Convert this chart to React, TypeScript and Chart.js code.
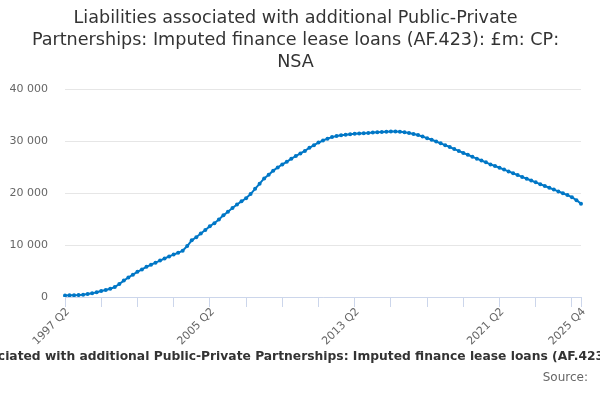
import React, { useEffect, useRef } from "react";
import { Chart, registerables } from "chart.js";

Chart.register(...registerables);

const TITLE_LINES = [
  "Liabilities associated with additional Public-Private",
  "Partnerships: Imputed finance lease loans (AF.423): £m: CP:",
  "NSA",
];
const FULL_TITLE =
  "Liabilities associated with additional Public-Private Partnerships: Imputed finance lease loans (AF.423): £m: CP: NSA";
const SOURCE_TEXT = "Source:";

const START_YEAR = 1997;
const START_QUARTER = 2;

// Quarterly values, £m, 1997 Q2 .. 2025 Q4
const VALUES = [
  300, 320, 350, 380, 450, 560, 700, 900, 1150, 1350,
  1600, 1900, 2500, 3150, 3750, 4300, 4850, 5300, 5800, 6200,
  6600, 7000, 7400, 7800, 8150, 8500, 8900, 9800, 10900, 11500,
  12200, 12900, 13600, 14200, 14900, 15700, 16400, 17100, 17800, 18400,
  19000, 19800, 20800, 21800, 22800, 23500, 24300, 24900, 25500, 26000,
  26600, 27100, 27600, 28100, 28700, 29200, 29700, 30100, 30450, 30750,
  30950, 31100, 31200, 31300, 31400, 31450, 31500, 31550, 31650, 31700,
  31750, 31800, 31850, 31850, 31800, 31700, 31550, 31350, 31150, 30850,
  30550, 30250, 29900, 29550, 29200, 28850, 28450, 28100, 27700, 27350,
  26950, 26600, 26250, 25900, 25500, 25200, 24850, 24500, 24150, 23800,
  23450, 23100, 22750, 22400, 22050, 21700, 21350, 21000, 20650, 20300,
  19950, 19600, 19200, 18600, 17950,
];

const TICK_LABELS = ["1997 Q2", "2005 Q2", "2013 Q2", "2021 Q2", "2025 Q4"];

const CATEGORIES: string[] = [];
{
  let y = START_YEAR;
  let q = START_QUARTER;
  for (let i = 0; i < VALUES.length; i++) {
    CATEGORIES.push(`${y} Q${q}`);
    q++;
    if (q > 4) {
      q = 1;
      y++;
    }
  }
}

const Y_TICKS_MAX = 40000;
const Y_STEP = 10000;

const FONT = "'DejaVu Sans', sans-serif";
const LINE_COLOR = "#0077c6";

const textPlugin = {
  id: "extraText",
  afterDraw(chart: any) {
    const ctx = chart.ctx;
    const xs = chart.scales.x;
    ctx.save();
    // rotated x-axis labels, positioned by the category scale
    ctx.fillStyle = "#666666";
    ctx.font = `11px ${FONT}`;
    ctx.textAlign = "right";
    ctx.textBaseline = "middle";
    for (const lab of TICK_LABELS) {
      const idx = CATEGORIES.indexOf(lab);
      if (idx < 0) continue;
      const px = xs.getPixelForValue(idx);
      ctx.save();
      ctx.translate(px + 3, xs.top + 13);
      ctx.rotate(-Math.PI / 4);
      ctx.fillText(lab, 0, 0);
      ctx.restore();
    }
    // bottom caption and source
    ctx.fillStyle = "#333333";
    ctx.font = `bold 12.3px ${FONT}`;
    ctx.textAlign = "center";
    ctx.fillText(FULL_TITLE, chart.width / 2, 357);
    ctx.fillStyle = "#666666";
    ctx.font = `12px ${FONT}`;
    ctx.textAlign = "right";
    ctx.fillText(SOURCE_TEXT, chart.width - 12, 378);
    ctx.restore();
  },
};

export default function App() {
  const ref = useRef<HTMLCanvasElement | null>(null);
  useEffect(() => {
    document.body.style.margin = "0";
    if (!ref.current) return;
    const chart = new Chart(ref.current, {
      type: "line",
      data: {
        labels: CATEGORIES,
        datasets: [
          {
            data: VALUES,
            borderColor: LINE_COLOR,
            backgroundColor: LINE_COLOR,
            borderWidth: 2,
            pointRadius: 2,
            pointHoverRadius: 2,
            pointBorderWidth: 0,
            tension: 0,
          },
        ],
      },
      plugins: [textPlugin],
      options: {
        animation: false,
        responsive: true,
        maintainAspectRatio: false,
        layout: { padding: { left: 10, right: 19, top: 0, bottom: 53 } },
        plugins: {
          legend: { display: false },
          tooltip: { enabled: false },
          title: {
            display: true,
            text: TITLE_LINES,
            color: "#333333",
            font: { family: FONT, size: 17.6, weight: "normal", lineHeight: 1.25 },
            padding: { top: 7, bottom: 16 },
          },
        },
        scales: {
          x: {
            type: "category",
            offset: false,
            afterFit: (scale: any) => {
              scale.height = 50;
              scale.paddingLeft = 0;
              scale.paddingRight = 0;
            },
            grid: {
              display: true,
              drawOnChartArea: false,
              drawTicks: true,
              tickLength: 10,
              color: "#ccd6eb",
            },
            border: { display: true, color: "#ccd6eb", width: 1 },
            ticks: {
              autoSkip: false,
              maxRotation: 0,
              minRotation: 0,
              padding: 0,
              color: "#666666",
              font: { family: FONT, size: 11 },
              callback: (_v: any, index: number) => {
                if (index % 8 === 0 || index === CATEGORIES.length - 1) return "";
                return null;
              },
            },
          },
          y: {
            min: 0,
            max: Y_TICKS_MAX,
            afterFit: (scale: any) => {
              scale.width = 55;
            },
            grid: { color: "#e6e6e6", drawTicks: false },
            border: { display: false },
            ticks: {
              stepSize: Y_STEP,
              padding: 17,
              color: "#666666",
              font: { family: FONT, size: 11 },
              callback: (v: any) =>
                String(v).replace(/\B(?=(\d{3})+(?!\d))/g, " "),
            },
          },
        },
      },
    });
    return () => chart.destroy();
  }, []);
  return (
    <div style={{ position: "relative", width: 600, height: 400 }}>
      <canvas ref={ref} />
    </div>
  );
}
